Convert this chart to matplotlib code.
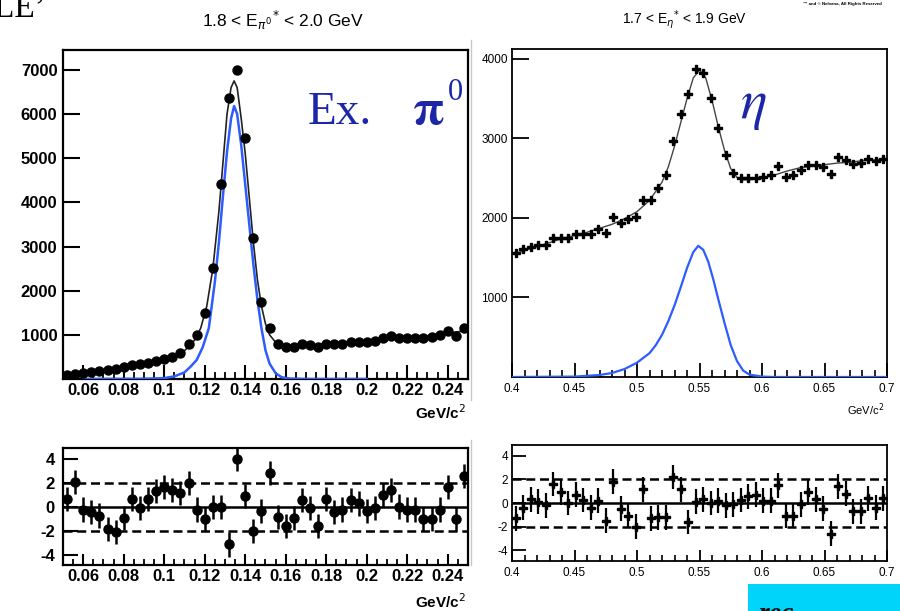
import matplotlib.pyplot as plt
import numpy as np

W, H = 900, 611

# ---- pi0 panel (left) ----
pi0_mass = [0.052, 0.056, 0.060, 0.064, 0.068, 0.072, 0.076, 0.080, 0.084, 0.088,
            0.092, 0.096, 0.100, 0.104, 0.108, 0.112, 0.116, 0.120, 0.124, 0.128,
            0.132, 0.136, 0.140, 0.144, 0.148, 0.152, 0.156, 0.160, 0.164, 0.168,
            0.172, 0.176, 0.180, 0.184, 0.188, 0.192, 0.196, 0.200, 0.204, 0.208,
            0.212, 0.216, 0.220, 0.224, 0.228, 0.232, 0.236, 0.240, 0.244, 0.248]
pi0_counts = [90, 120, 143, 160, 182, 205, 234, 273, 311, 334,
              370, 409, 455, 507, 584, 802, 993, 1484, 2516, 4425,
              6370, 7000, 5460, 3198, 1734, 1152, 788, 727, 730, 788,
              760, 727, 803, 788, 788, 848, 848, 833, 864, 924,
              970, 939, 924, 939, 939, 954, 1000, 1076, 977, 1145]
pi0_pull = [0.7, 2.1, -0.2, -0.4, -0.7, -1.8, -2.1, -0.9, 0.7, -0.1,
            0.7, 1.3, 1.7, 1.4, 1.2, 2.0, -0.2, -1.0, 0.0, 0.0,
            -3.1, 4.0, 0.9, -2.0, -0.35, 2.8, -0.8, -1.6, -0.9, 0.6,
            -0.1, -1.6, 0.7, -0.4, -0.2, 0.6, 0.3, -0.35, -0.1, 1.0,
            1.4, 0.05, -0.2, -0.2, -1.0, -1.0, -0.2, 1.7, -1.0, 2.6]

# total fit (black) and signal (blue)
pi0_fit_x = [0.050, 0.060, 0.070, 0.080, 0.090, 0.100, 0.105, 0.110, 0.115, 0.118,
             0.121, 0.124, 0.127, 0.129, 0.131, 0.133, 0.1345, 0.136, 0.138, 0.140,
             0.142, 0.144, 0.146, 0.148, 0.150, 0.152, 0.155, 0.158, 0.162, 0.170,
             0.180, 0.190, 0.200, 0.210, 0.220, 0.230, 0.240, 0.250]
pi0_fit_y = [85, 145, 195, 265, 350, 450, 525, 640, 880, 1150,
             1650, 2500, 3800, 4900, 6000, 6600, 6750, 6600, 5900, 5100,
             4100, 3100, 2250, 1650, 1250, 1000, 830, 760, 740, 760,
             790, 830, 860, 920, 950, 980, 1040, 1100]
pi0_sig_x = [0.060, 0.090, 0.100, 0.105, 0.110, 0.113, 0.116, 0.119, 0.122, 0.125,
             0.127, 0.129, 0.131, 0.133, 0.1345, 0.136, 0.138, 0.140, 0.142, 0.144,
             0.146, 0.148, 0.150, 0.152, 0.155, 0.158, 0.162, 0.170, 0.200]
pi0_sig_y = [0, 5, 20, 60, 150, 280, 430, 720, 1150, 2200,
             3100, 4150, 5150, 5900, 6180, 6000, 5300, 4400, 3500, 2600,
             1800, 1150, 650, 350, 130, 40, 10, 0, 0]

# ---- eta panel (right) ----
eta_mass = [0.403, 0.409, 0.415, 0.421, 0.427, 0.433, 0.439, 0.445, 0.451, 0.457,
            0.463, 0.469, 0.475, 0.481, 0.487, 0.493, 0.499, 0.505, 0.511, 0.517,
            0.523, 0.529, 0.535, 0.541, 0.547, 0.553, 0.559, 0.565, 0.571, 0.577,
            0.583, 0.589, 0.595, 0.601, 0.607, 0.613, 0.619, 0.625, 0.631, 0.637,
            0.643, 0.649, 0.655, 0.661, 0.667, 0.673, 0.679, 0.685, 0.691, 0.697]
eta_counts = [1554, 1608, 1637, 1658, 1662, 1754, 1742, 1742, 1796, 1796,
              1796, 1867, 1817, 2017, 1942, 1983, 2017, 2225, 2225, 2371,
              2546, 2971, 3304, 3554, 3871, 3817, 3504, 3129, 2787, 2567,
              2504, 2504, 2504, 2512, 2537, 2650, 2512, 2537, 2608, 2671,
              2662, 2637, 2554, 2762, 2733, 2679, 2692, 2746, 2721, 2746]
eta_pull = [-1.3, -0.4, 0.3, 0.1, -0.2, 1.6, 0.9, 0.0, 0.7, 0.25,
            -0.4, 0.2, -1.5, 1.8, -0.5, -1.1, -2.0, 1.15, -1.3, -1.2,
            -1.2, 2.2, 1.15, -1.6, 0.1, 0.3, 0.0, 0.2, -0.2, -0.1,
            0.25, 0.55, 0.7, 0.2, 0.2, 1.5, -1.1, -1.1, -0.1, 0.9,
            0.3, -0.5, -2.6, 1.4, 0.8, -0.7, -0.7, 0.4, -0.4, 0.4]

eta_fit_x = [0.400, 0.420, 0.440, 0.460, 0.480, 0.490, 0.500, 0.510, 0.520, 0.525,
             0.530, 0.535, 0.540, 0.545, 0.550, 0.555, 0.560, 0.565, 0.570, 0.575,
             0.580, 0.585, 0.590, 0.600, 0.610, 0.620, 0.630, 0.640, 0.650, 0.660,
             0.670, 0.680, 0.690, 0.700]
eta_fit_y = [1540, 1640, 1740, 1820, 1920, 1990, 2080, 2220, 2450, 2640,
             2900, 3200, 3500, 3760, 3860, 3760, 3480, 3150, 2850, 2620,
             2510, 2480, 2480, 2500, 2540, 2590, 2630, 2650, 2670, 2690,
             2700, 2720, 2730, 2740]
eta_sig_x = [0.400, 0.450, 0.470, 0.480, 0.490, 0.500, 0.510, 0.515, 0.520, 0.525,
             0.530, 0.535, 0.540, 0.545, 0.549, 0.553, 0.557, 0.561, 0.565, 0.570,
             0.575, 0.580, 0.585, 0.590, 0.600, 0.610, 0.700]
eta_sig_y = [0, 5, 25, 50, 100, 180, 300, 400, 530, 700,
             900, 1130, 1370, 1570, 1650, 1600, 1450, 1230, 980, 680,
             400, 200, 80, 30, 5, 0, 0]

pi0_xticks = [0.06, 0.08, 0.10, 0.12, 0.14, 0.16, 0.18, 0.20, 0.22, 0.24]
pi0_xlabels = ['0.06', '0.08', '0.1', '0.12', '0.14', '0.16', '0.18', '0.2', '0.22', '0.24']
pi0_yticks = [1000, 2000, 3000, 4000, 5000, 6000, 7000]
eta_xticks = [0.40, 0.45, 0.50, 0.55, 0.60, 0.65, 0.70]
eta_xlabels = ['0.4', '0.45', '0.5', '0.55', '0.6', '0.65', '0.7']
eta_yticks = [1000, 2000, 3000, 4000]
pull_ticks = [-4, -2, 0, 2, 4]
pull_labels = ['-4', '-2', '0', '2', '4']

BLUE_LINE = '#2d5cff'
BLUE_TEXT = '#1c26a8'
NARROW = ['Liberation Sans Narrow', 'Liberation Sans', 'DejaVu Sans']


def box(x0, y0, x1, y1):
    # pixel box (top-left origin) -> figure fraction rect
    return [x0 / W, 1 - y1 / H, (x1 - x0) / W, (y1 - y0) / H]


def fx(x):
    return x / W


def fy(y):
    return 1 - y / H


def root_axes(ax, lw=1.6):
    for s in ax.spines.values():
        s.set_linewidth(lw)
    ax.tick_params(which='both', direction='in', top=False, right=False)


def pull_lines(ax, lo, hi):
    ax.plot([lo, hi], [0, 0], color='black', lw=1.8, zorder=1)
    for v in (-2, 2):
        ax.plot([lo, hi], [v, v], color='black', lw=1.8, ls=(0, (3.6, 1.9)), zorder=1)


fig = plt.figure(figsize=(9, 6.11), dpi=100)

# ---------- left top ----------
ax1 = fig.add_axes(box(63, 50, 468, 379))
ax1.plot(pi0_fit_x, pi0_fit_y, color='#222222', lw=1.2, zorder=2)
ax1.plot(pi0_sig_x, pi0_sig_y, color=BLUE_LINE, lw=1.8, zorder=3)
ax1.plot(pi0_mass, pi0_counts, 'o', color='black', ms=6.5, zorder=4)
ax1.set_xlim(0.05, 0.25)
ax1.set_ylim(0, 7450)
ax1.set_xticks(pi0_xticks)
ax1.set_xticklabels(pi0_xlabels, fontsize=12, fontweight='bold', family='Liberation Sans')
ax1.set_xticks(np.arange(0.055, 0.25, 0.005), minor=True)
ax1.set_yticks(pi0_yticks)
ax1.set_yticklabels([str(v) for v in pi0_yticks], fontsize=12, fontweight='bold',
                    family='Liberation Sans')
root_axes(ax1)
ax1.tick_params(axis='x', which='major', length=10, width=1.5, pad=3)
ax1.tick_params(axis='x', which='minor', length=5, width=1.3)
ax1.tick_params(axis='y', which='major', length=12, width=1.5, pad=4)

# ---------- left bottom ----------
ax2 = fig.add_axes(box(63, 448, 468, 565))
pull_lines(ax2, 0.05, 0.25)
ax2.errorbar(pi0_mass, pi0_pull, yerr=1.0, fmt='o', color='black', ms=6.5,
             elinewidth=1.8, capsize=0, zorder=4)
ax2.set_xlim(0.05, 0.25)
ax2.set_ylim(-4.8, 4.9)
ax2.set_xticks(pi0_xticks)
ax2.set_xticklabels(pi0_xlabels, fontsize=12, fontweight='bold', family='Liberation Sans')
ax2.set_xticks(np.arange(0.055, 0.25, 0.005), minor=True)
ax2.set_yticks(pull_ticks)
ax2.set_yticklabels(pull_labels, fontsize=12, fontweight='bold', family='Liberation Sans')
root_axes(ax2)
ax2.tick_params(axis='x', which='major', length=8, width=1.5, pad=3)
ax2.tick_params(axis='x', which='minor', length=4, width=1.3)
ax2.tick_params(axis='y', which='major', length=11, width=1.5, pad=6)

# ---------- right top ----------
ax3 = fig.add_axes(box(512, 49, 887, 377))
ax3.plot(eta_fit_x, eta_fit_y, color='#444444', lw=1.0, zorder=2)
ax3.plot(eta_sig_x, eta_sig_y, color=BLUE_LINE, lw=1.6, zorder=3)
ax3.plot(eta_mass, eta_counts, 'P', color='black', ms=6, zorder=4)
ax3.set_xlim(0.4, 0.7)
ax3.set_ylim(0, 4125)
ax3.set_xticks(eta_xticks)
ax3.set_xticklabels(eta_xlabels, fontsize=8.5, family=NARROW)
ax3.set_xticks(np.arange(0.41, 0.70, 0.01), minor=True)
ax3.set_yticks(eta_yticks)
ax3.set_yticklabels([str(v) for v in eta_yticks], fontsize=8.5, family=NARROW)
root_axes(ax3, lw=1.3)
ax3.tick_params(axis='x', which='major', length=10, width=1.3, pad=4)
ax3.tick_params(axis='x', which='minor', length=5, width=1.2)
ax3.tick_params(axis='y', which='major', length=12, width=1.3, pad=3)

# ---------- right bottom ----------
ax4 = fig.add_axes(box(512, 445, 887, 561))
pull_lines(ax4, 0.4, 0.7)
ax4.errorbar(eta_mass, eta_pull, yerr=1.05, fmt='P', color='black', ms=6,
             elinewidth=1.6, capsize=0, zorder=4)
ax4.set_xlim(0.4, 0.7)
ax4.set_ylim(-4.9, 4.9)
ax4.set_xticks(eta_xticks)
ax4.set_xticklabels(eta_xlabels, fontsize=8.5, family=NARROW)
ax4.set_xticks(np.arange(0.41, 0.70, 0.01), minor=True)
ax4.set_yticks(pull_ticks)
ax4.set_yticklabels(pull_labels, fontsize=8.5, family=NARROW)
root_axes(ax4, lw=1.3)
ax4.tick_params(axis='x', which='major', length=8, width=1.3, pad=4)
ax4.tick_params(axis='x', which='minor', length=4, width=1.2)
ax4.tick_params(axis='y', which='major', length=10, width=1.3, pad=3)

# ---------- titles and labels ----------
fig.text(fx(283), fy(20), r'1.8 < E$_{\pi^{0}}$$^{*}$ < 2.0 GeV', fontsize=12.5,
         family='Liberation Sans', ha='center', va='center')
fig.text(fx(685), fy(20), r'1.7 < E$_{\eta}$$^{*}$ < 1.9 GeV', fontsize=10,
         family=NARROW, ha='center', va='center')
fig.text(fx(466), fy(413), r'GeV/c$^{2}$', fontsize=11, fontweight='bold',
         family='Liberation Sans', ha='right', va='center')
fig.text(fx(466), fy(602), r'GeV/c$^{2}$', fontsize=11, fontweight='bold',
         family='Liberation Sans', ha='right', va='center')
fig.text(fx(884), fy(410), r'GeV/c$^{2}$', fontsize=8, family=NARROW,
         ha='right', va='center')
fig.text(fx(842), fy(4), '\u2122 and \u00a9 Nelvana, All Rights Reserved', fontsize=3.2,
         fontweight='bold', family='Liberation Sans', ha='center', va='center')

# slide annotations
fig.text(fx(308), fy(124), 'Ex.', fontsize=34, color=BLUE_TEXT,
         family='Liberation Serif', ha='left', va='baseline')
fig.text(fx(412), fy(124), r'$\mathbf{\pi}$', fontsize=36, color=BLUE_TEXT,
         ha='left', va='baseline', math_fontfamily='stix')
fig.text(fx(448), fy(100), '0', fontsize=22, color=BLUE_TEXT,
         family='Liberation Serif', ha='left', va='baseline')
fig.text(fx(740), fy(118), r'$\eta$', fontsize=40, color=BLUE_TEXT,
         ha='left', va='baseline', math_fontfamily='stix')
fig.text(fx(-6), fy(17), 'LE\u2019', fontsize=24, color='black',
         family='Liberation Serif', ha='left', va='baseline')

# thin grey edge of the pasted right-hand image
fig.add_artist(plt.Line2D([fx(471), fx(471)], [fy(40), fy(400)], color='#c8c8c8', lw=1.0))
fig.add_artist(plt.Line2D([fx(471), fx(471)], [fy(440), fy(565)], color='#c8c8c8', lw=1.0))

# cyan box at the bottom right
cyan = plt.Rectangle((fx(748), 0), fx(152), 27 / H, transform=fig.transFigure,
                     facecolor='#00d4fa', edgecolor='none', zorder=10)
fig.add_artist(cyan)
fig.text(fx(758), fy(621), 'rec', fontsize=20, fontweight='bold', style='italic',
         family='Liberation Serif', color='#111111', ha='left', va='baseline', zorder=11)

fig.savefig('out.png', dpi=100)
